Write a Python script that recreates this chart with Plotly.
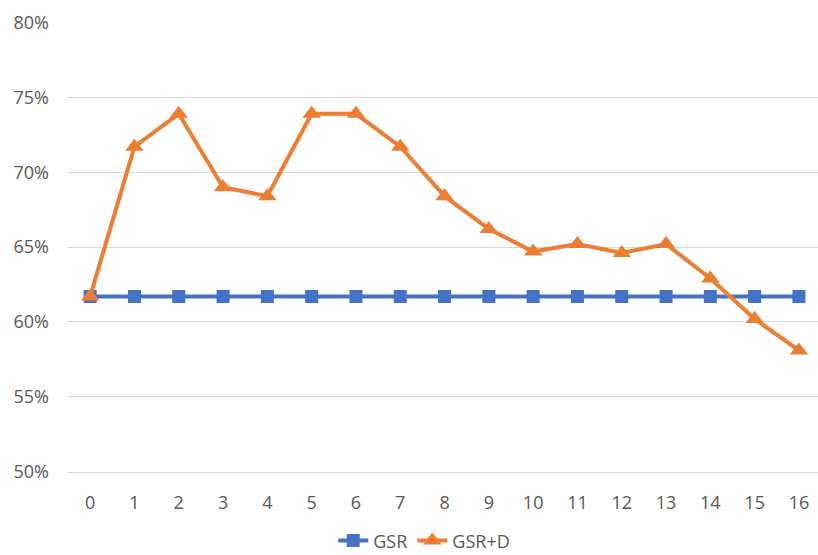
import plotly.graph_objects as go

x_labels = [str(i) for i in range(17)]
gsr = [0.617] * 17
gsr_d = [0.617, 0.717, 0.739, 0.690, 0.684, 0.739, 0.739, 0.717, 0.684,
         0.662, 0.647, 0.652, 0.646, 0.652, 0.629, 0.602, 0.581]
y_ticks = [0.50, 0.55, 0.60, 0.65, 0.70, 0.75, 0.80]

xs = list(range(len(x_labels)))
FONT = "Open Sans, sans-serif"

fig = go.Figure()
fig.add_trace(go.Scatter(
    x=xs, y=gsr, name="GSR", mode="lines+markers",
    line=dict(color="#4472C4", width=4),
    marker=dict(symbol="square", size=13, color="#4472C4"),
))
fig.add_trace(go.Scatter(
    x=xs, y=gsr_d, name="GSR+D", mode="lines+markers",
    line=dict(color="#ED7D31", width=4),
    marker=dict(symbol="triangle-up", size=16, color="#ED7D31"),
))

fig.update_layout(
    width=818, height=555,
    margin=dict(l=68, r=0, t=22, b=83, autoexpand=False),
    plot_bgcolor="white", paper_bgcolor="white",
    font=dict(family=FONT, size=18, color="#595959"),
    xaxis=dict(
        range=[-0.5, 16.43], tickvals=xs, ticktext=x_labels,
        showgrid=False, zeroline=False, showline=True,
        linecolor="#D9D9D9", linewidth=1, ticks="",
        automargin=False, ticklabelstandoff=14,
        tickfont=dict(size=18, color="#595959"),
    ),
    yaxis=dict(
        range=[0.4998, 0.8003], tickvals=y_ticks, tickformat=".0%",
        showgrid=True, gridcolor="#D9D9D9", gridwidth=1,
        zeroline=False, showline=False, ticks="",
        automargin=False, ticklabelstandoff=18,
        tickfont=dict(size=18, color="#595959"),
    ),
    legend=dict(
        orientation="h", x=0.475, xanchor="center", y=-0.112, yanchor="top",
        font=dict(size=18, color="#595959"),
        itemwidth=30, tracegroupgap=0,
    ),
    showlegend=True,
)

fig.write_html(
    "out.html",
    config={"displayModeBar": False},
    post_script="document.body.style.margin='0';document.body.style.overflow='hidden';",
)
